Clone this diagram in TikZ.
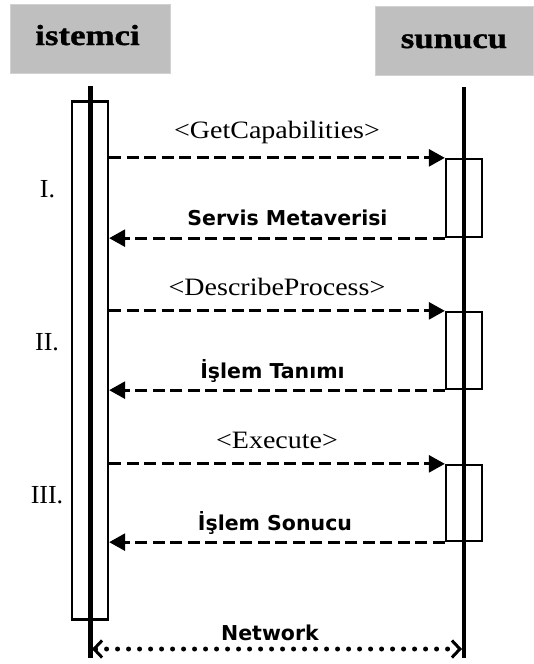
\documentclass[tikz,border=0pt]{standalone}
\usepackage{fontspec}
\setmainfont{Liberation Serif}
\newfontfamily\hdrfont[FakeStretch=1.2,FakeBold=1.2]{Liberation Serif}
\newfontfamily\msgfont[FakeStretch=1.12]{Liberation Serif}
\newfontfamily\replyfont{DejaVu Sans}
\usetikzlibrary{arrows.meta}
\begin{document}
\begin{tikzpicture}[x=1pt,y=-1pt,
  hdrbox/.style={draw=black!18, line width=1pt, fill=black!25, minimum width=160pt, minimum height=69pt, inner sep=0pt},
  hdrtext/.style={anchor=base, inner sep=0pt, font=\hdrfont\bfseries\fontsize{29}{32}\selectfont},
  lifeline/.style={line width=5pt},
  actbox/.style={draw, line width=2.3pt, minimum width=36pt, inner sep=0pt},
  msg/.style={line width=2.8pt, dash pattern=on 12pt off 5.5pt, -{Triangle[length=16pt,width=17pt]}},
  reqtext/.style={anchor=base, inner sep=0pt, font=\msgfont\fontsize{25}{28}\selectfont},
  reptext/.style={anchor=base, inner sep=0pt, font=\replyfont\bfseries\fontsize{20.5}{24}\selectfont},
  numtext/.style={anchor=base, inner sep=0pt, font=\fontsize{26}{28}\selectfont},
  netline/.style={line width=5pt, dash pattern=on 0pt off 11pt, line cap=round,
    {Straight Barb[length=8pt,width=17pt,line width=3pt]}-{Straight Barb[length=8pt,width=17pt,line width=3pt]}}
]
\useasboundingbox (0,0) rectangle (533,664);

% headers
\node[hdrbox] (hc) at (90,38.5) {};
\node[hdrbox, minimum width=158pt] (hs) at (454,40.5) {};
\node[hdrtext] (hct) at (87.5,45) {istemci};
\node[hdrtext] (hst) at (454,48) {sunucu};

% lifelines
\coordinate (ctop) at (90,86);
\coordinate (cbot) at (90,658);
\coordinate (stop) at (464,87);
\coordinate (sbot) at (464,658);
\draw[lifeline] (ctop) -- (cbot);
\draw[lifeline, line width=4.6pt] (stop) -- (sbot);

% activation boxes
\node[actbox, minimum height=518pt] (cact) at (90,360.5) {};
\node[actbox, minimum height=78pt] (s1) at (464,198) {};
\node[actbox, minimum height=77pt] (s2) at (464,350.5) {};
\node[actbox, minimum height=76pt] (s3) at (464,503) {};

% messages
\draw[msg] (cact.east |- s1.north west) -- (s1.north west);
\draw[msg] (s1.south west) -- (cact.east |- s1.south west);
\draw[msg] (cact.east |- s2.north west) -- (s2.north west);
\draw[msg] (s2.south west) -- (cact.east |- s2.south west);
\draw[msg] (cact.east |- s3.north west) -- (s3.north west);
\draw[msg] (s3.south west) -- (cact.east |- s3.south west);

% labels
\node[reqtext] (l1) at (277,138) {<GetCapabilities>};
\node[reptext] (r1) at (287.5,225) {Servis Metaverisi};
\node[reqtext] (l2) at (277,295) {<DescribeProcess>};
\node[reptext] (r2) at (272.5,378) {İşlem Tanımı};
\node[reqtext] (l3) at (277,448) {<Execute>};
\node[reptext] (r3) at (275,530) {İşlem Sonucu};

% phase numbers
\node[numtext] (n1) at (47.5,197) {I.};
\node[numtext] (n2) at (47,350) {II.};
\node[numtext] (n3) at (47,503) {III.};

% network
\coordinate (netl) at (92,649);
\coordinate (netr) at (462,649);
\draw[netline] (netl) -- (netr);
\node[reptext] (net) at (270,640) {Network};
\end{tikzpicture}
\end{document}
